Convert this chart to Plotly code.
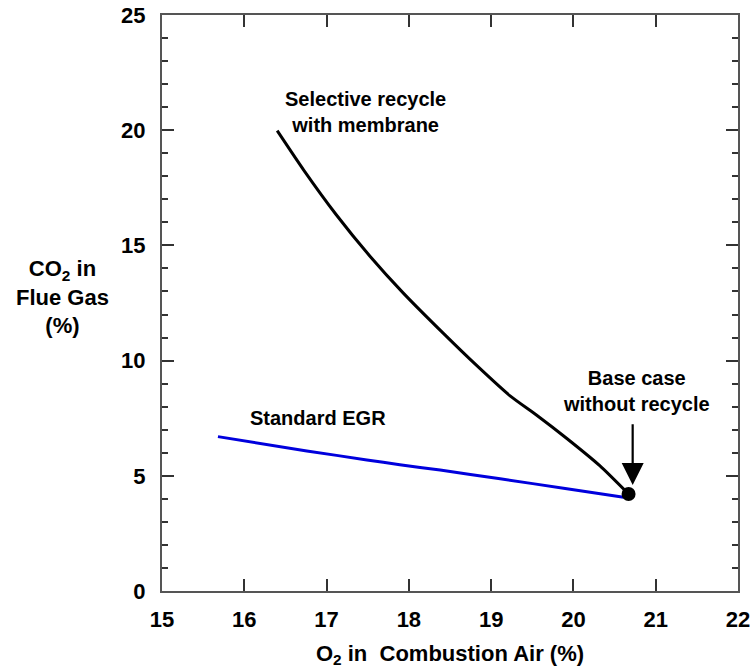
import plotly.graph_objects as go

# Selective recycle with membrane: O2 in combustion air (%) vs CO2 in flue gas (%)
membrane_o2 = [16.40, 16.72, 17.12, 17.53, 17.93, 18.42, 18.82, 19.23, 19.55, 19.92, 20.32, 20.67]
membrane_co2 = [19.98, 18.28, 16.32, 14.52, 12.94, 11.18, 9.80, 8.47, 7.64, 6.62, 5.44, 4.21]

# Standard exhaust gas recycle
egr_o2 = [15.68, 16.76, 17.49, 17.89, 18.38, 19.11, 19.90, 20.61]
egr_co2 = [6.70, 6.08, 5.69, 5.48, 5.25, 4.87, 4.45, 4.07]

# Base case without recycle
base_o2 = [20.67]
base_co2 = [4.21]

x_ticks = [15, 16, 17, 18, 19, 20, 21, 22]
y_ticks = [0, 5, 10, 15, 20, 25]

FONT = "Liberation Sans, Arial, sans-serif"

fig = go.Figure()
fig.add_trace(go.Scatter(x=membrane_o2, y=membrane_co2, mode="lines",
                         line=dict(color="black", width=3, shape="spline", smoothing=0.6),
                         showlegend=False, hoverinfo="skip"))
fig.add_trace(go.Scatter(x=egr_o2, y=egr_co2, mode="lines",
                         line=dict(color="#0000dd", width=3, shape="spline", smoothing=0.4),
                         showlegend=False, hoverinfo="skip"))
fig.add_trace(go.Scatter(x=base_o2, y=base_co2, mode="markers",
                         marker=dict(color="black", size=14),
                         showlegend=False, hoverinfo="skip"))

ann_font = dict(family=FONT, size=20, color="black")
fig.add_annotation(x=17.47, y=20.79, text="<b>Selective recycle<br>with membrane</b>",
                   showarrow=False, font=ann_font, align="center")
fig.add_annotation(x=20.77, y=8.68, text="<b>Base case<br>without recycle</b>",
                   showarrow=False, font=ann_font, align="center")
fig.add_annotation(x=16.90, y=7.50, text="<b>Standard EGR</b>",
                   showarrow=False, font=ann_font, align="center")
# Arrow pointing down at the base-case marker
fig.add_annotation(x=20.72, y=4.6, ax=20.72, ay=7.3, xref="x", yref="y",
                   axref="x", ayref="y", text="", showarrow=True,
                   arrowhead=2, arrowsize=2.0, arrowwidth=2.2, arrowcolor="black")

axis_common = dict(showline=True, linecolor="#555555", linewidth=2, mirror="ticks",
                   ticks="inside", ticklen=12, tickwidth=2, tickcolor="#333333",
                   showgrid=False, zeroline=False, automargin=False,
                   tickfont=dict(family=FONT, size=22, color="black"))

fig.update_xaxes(range=[15, 22], tickvals=x_ticks,
                 ticktext=["<b>%d</b>" % v for v in x_ticks],
                 ticklabelstandoff=8,
                 title=dict(text="<b>O<sub>2</sub> in&nbsp; Combustion Air (%)</b>",
                            font=dict(family=FONT, size=22, color="black"), standoff=14),
                 **axis_common)
fig.update_yaxes(range=[0, 25], tickvals=y_ticks,
                 ticktext=["<b>%d</b>" % v for v in y_ticks],
                 ticklabelstandoff=10,
                 minor=dict(dtick=1, ticks="inside", ticklen=6, tickwidth=2, tickcolor="#333333"),
                 **axis_common)

fig.add_annotation(xref="paper", yref="paper", x=-0.1736, y=0.51,
                   xanchor="center", yanchor="middle",
                   text="<b>CO<sub>2</sub> in<br>Flue Gas<br>(%)</b>", showarrow=False,
                   font=dict(family=FONT, size=22, color="black"), align="center")

fig.update_layout(width=755, height=671, margin=dict(l=162, r=17, t=15, b=80),
                  plot_bgcolor="white", paper_bgcolor="white")

fig.write_html("out.html")
